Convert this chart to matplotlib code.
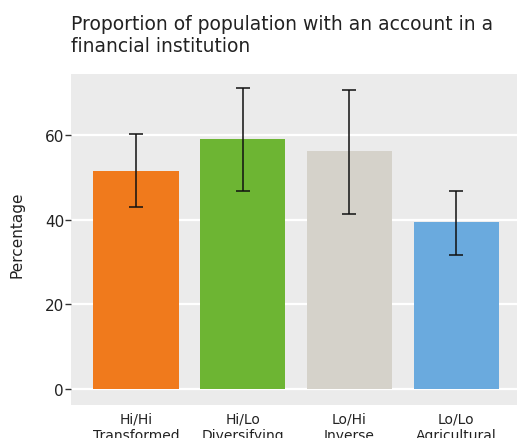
import matplotlib
matplotlib.use("Agg")
import matplotlib.pyplot as plt

categories = ["Hi/Hi\nTransformed", "Hi/Lo\nDiversifying", "Lo/Hi\nInverse", "Lo/Lo\nAgricultural"]
values = [51.5, 59.1, 56.2, 39.5]
err_low = [43.1, 46.8, 41.3, 31.7]
err_high = [60.3, 71.0, 70.6, 46.8]
colors = ["#F07A1C", "#6DB533", "#D5D2CA", "#6AAADE"]
yticks = [0, 20, 40, 60]

plt.rcParams["font.family"] = ["DejaVu Sans"]

fig = plt.figure(figsize=(5.17, 4.39), dpi=100)
ax = fig.add_axes([71 / 517, 1 - 405.5 / 439, 1 - 71 / 517, (405.5 - 75) / 439])
ax.set_facecolor("#EBEBEB")

x = list(range(len(categories)))
lower = [v - lo for v, lo in zip(values, err_low)]
upper = [hi - v for v, hi in zip(values, err_high)]

ax.bar(x, values, width=0.8, color=colors, zorder=2)
ax.errorbar(x, values, yerr=[lower, upper], fmt="none", ecolor="#111111",
            elinewidth=1.1, capsize=5.2, capthick=1.1, zorder=3)

ax.set_ylim(-3.65, 74.4)
ax.set_xlim(-0.61, 3.57)
ax.set_yticks(yticks)
ax.set_xticks(x)
ax.set_xticklabels(categories, fontsize=10, color="#222222", linespacing=1.2)
ax.tick_params(axis="x", length=0, pad=5)
ax.tick_params(axis="y", length=4, width=1, color="#333333", pad=1,
               labelsize=11, labelcolor="#222222")
ax.yaxis.grid(True, color="white", linewidth=1.6, zorder=0)
ax.set_axisbelow(True)
for s in ax.spines.values():
    s.set_visible(False)

ax.set_ylabel("Percentage", fontsize=11, color="#222222")
ax.yaxis.set_label_coords(-0.105, 0.516)

fig.text(71 / 517, 1 - 15 / 439,
         "Proportion of population with an account in a\nfinancial institution",
         fontsize=13.5, color="#222222", ha="left", va="top", linespacing=1.2)

fig.savefig("out.png", dpi=100)
